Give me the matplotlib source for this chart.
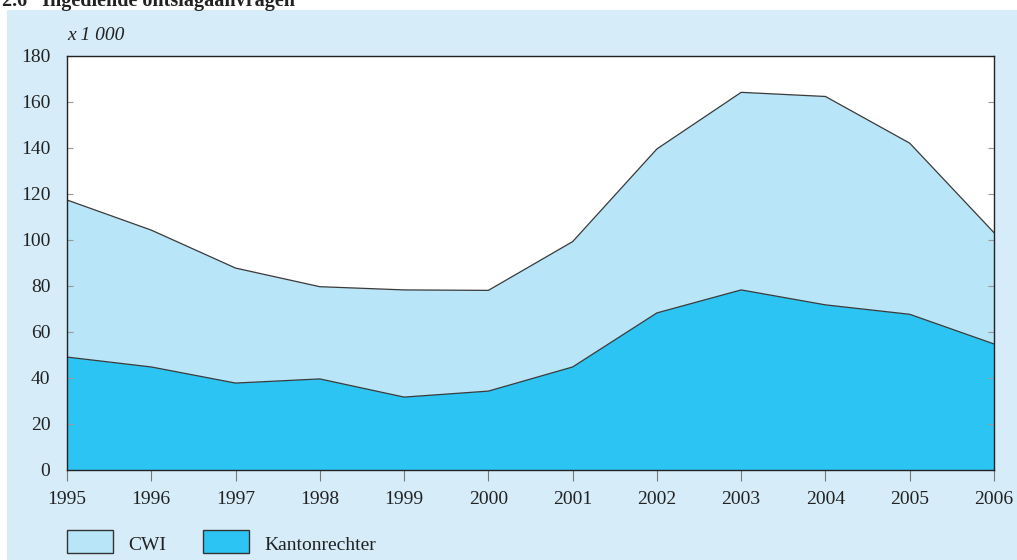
import matplotlib
matplotlib.use("Agg")
import matplotlib.pyplot as plt
from matplotlib.patches import Rectangle
import numpy as np

# ---- data (x 1 000) ----
years = [1995, 1996, 1997, 1998, 1999, 2000, 2001, 2002, 2003, 2004, 2005, 2006]
kantonrechter = [49.1, 44.8, 37.8, 39.6, 31.7, 34.3, 44.8, 68.3, 78.3, 71.8, 67.7, 54.8]
cwi_total = [117.4, 104.3, 87.8, 79.7, 78.3, 78.1, 99.3, 139.6, 164.2, 162.4, 142.1, 103.2]
cwi = [t - k for t, k in zip(cwi_total, kantonrechter)]
series_names = ["CWI", "Kantonrechter"]
yticks = [0, 20, 40, 60, 80, 100, 120, 140, 160, 180]
title = "2.6   Ingediende ontslagaanvragen"
unit_label = "x 1 000"

c_cwi = "#b8e5f8"
c_kanton = "#2cc4f2"
c_bg = "#d6edf9"
c_edge = "#3a3a3a"

plt.rcParams['font.family'] = ['Liberation Serif', 'DejaVu Serif']

W, H = 1017, 560
fig = plt.figure(figsize=(W / 100, H / 100), dpi=100)
fig.patch.set_facecolor("white")

# light blue panel
fig.patches.append(Rectangle((7 / W, 0), 1 - 7 / W, (H - 10) / H,
                             transform=fig.transFigure, facecolor=c_bg,
                             edgecolor="none", zorder=-10))

ax = fig.add_axes([67 / W, (H - 470) / H, (994 - 67) / W, (470 - 56) / H])
ax.set_zorder(5)
ax.set_facecolor("white")

ax.stackplot(years, kantonrechter, cwi, colors=[c_kanton, c_cwi],
             edgecolor="none", linewidth=0)
ax.plot(years, kantonrechter, color=c_edge, lw=0.9)
ax.plot(years, cwi_total, color=c_edge, lw=0.9)

ax.set_xlim(years[0], years[-1])
ax.set_ylim(0, 180)
ax.set_yticks(yticks)
ax.set_xticks(years)
ax.set_xticklabels([str(y) for y in years])
ax.tick_params(axis="y", direction="in", length=4, color="#999999",
               labelsize=14, right=True, pad=12, labelcolor="#222222")
ax.tick_params(axis="x", direction="out", length=8, color="#777777",
               labelsize=14, pad=7, labelcolor="#222222")
for s in ax.spines.values():
    s.set_color("#222222")
    s.set_linewidth(1.0)

fig.text(67 / W, 1 - 35 / H, unit_label, fontsize=14, style="italic",
         ha="left", va="center", color="#222222")
fig.text(2 / W, 1 - 1 / H, title, fontsize=14.5, fontweight="bold",
         ha="left", va="center", color="#222222")

# legend
legend_items = [(series_names[0], c_cwi, 67), (series_names[1], c_kanton, 203)]
for name, col, x0 in legend_items:
    fig.patches.append(Rectangle((x0 / W, 1 - 553 / H), 46 / W, 23 / H,
                                 transform=fig.transFigure, facecolor=col,
                                 edgecolor="#333333", linewidth=1.0))
    fig.text((x0 + 61) / W, 1 - 546 / H, name, fontsize=14,
             ha="left", va="center", color="#222222")

fig.savefig("out.png", dpi=100, facecolor=fig.get_facecolor())
